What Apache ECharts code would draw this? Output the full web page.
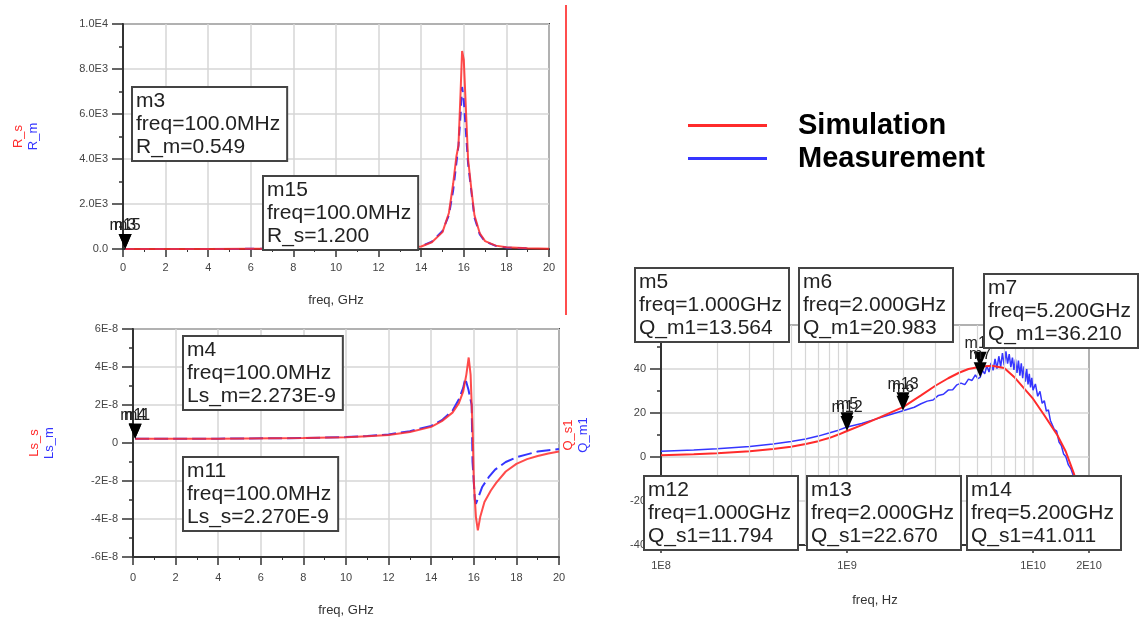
<!DOCTYPE html>
<html>
<head>
<meta charset="utf-8">
<title>R / Ls / Q simulation vs measurement</title>
<script src="https://cdn.jsdelivr.net/npm/echarts@6/dist/echarts.min.js"></script>
<style>
  html, body { margin: 0; padding: 0; background: #fff; }
  #chart { width: 1139px; height: 625px; }
</style>
</head>
<body>
<div id="chart"></div>
<script>
// R plot, freq in GHz, R in ohm
var rSimFreq = [0.1, 2, 4, 6, 8, 10, 12, 13, 14, 14.5, 15, 15.3, 15.5, 15.65, 15.75, 15.85, 15.92, 16.0, 16.1, 16.2, 16.35, 16.5, 16.75, 17, 17.5, 18, 19, 20]
var rSimVal = [1.2, 2, 4, 6, 10, 15, 30, 55, 110, 300, 750, 1600, 2900, 4100, 4600, 7000, 8800, 8400, 6200, 4000, 2700, 1500, 700, 350, 150, 80, 35, 15]
var rMeasFreq = [0.1, 2, 4, 6, 8, 10, 12, 13, 14, 14.5, 15, 15.3, 15.5, 15.65, 15.75, 15.85, 15.92, 16.0, 16.1, 16.2, 16.35, 16.5, 16.75, 17, 17.5, 18, 19]
var rMeasVal = [0.549, 2, 4, 6, 10, 15, 30, 60, 130, 330, 800, 1500, 2600, 3800, 4600, 6000, 7200, 6600, 5200, 3800, 2600, 1400, 650, 330, 140, 70, 30]

// Ls plot, freq in GHz, Ls in units of 1E-8 H
var lsSimFreq = [0.1, 4, 8, 10, 11, 12, 13, 14, 14.5, 15, 15.3, 15.5, 15.65, 15.76, 15.85, 15.95, 16.0, 16.1, 16.19, 16.3, 16.5, 16.8, 17.05, 17.5, 18, 18.5, 19, 19.5, 20]
var lsSimVal = [0.227, 0.23, 0.26, 0.3, 0.36, 0.42, 0.58, 0.85, 1.15, 1.6, 2.1, 2.7, 3.6, 4.5, 3.6, 0.5, -2.0, -3.9, -4.6, -3.9, -3.1, -2.5, -2.1, -1.5, -1.1, -0.85, -0.68, -0.55, -0.45]
var lsMeasFreq = [0.1, 4, 8, 10, 11, 12, 13, 14, 14.5, 15, 15.3, 15.5, 15.6, 15.75, 15.9, 15.94, 15.97, 16.05, 16.1, 16.2, 16.4, 16.7, 17, 17.5, 18, 18.5, 19, 19.5, 20]
var lsMeasVal = [0.2273, 0.23, 0.26, 0.31, 0.37, 0.45, 0.62, 0.9, 1.2, 1.7, 2.3, 2.9, 3.4, 2.8, 2.0, -1.0, -1.5, -3.0, -3.2, -2.9, -2.3, -1.8, -1.4, -1.0, -0.75, -0.6, -0.45, -0.38, -0.32]

// Q plot, freq in GHz (axis in Hz)
var qSimFreq = [0.1, 0.15, 0.2, 0.3, 0.4, 0.5, 0.6, 0.7, 0.8, 0.9, 1.0, 1.2, 1.5, 2.0, 2.5, 3.0, 3.5, 4.0, 4.5, 5.2, 6.0, 7.0, 8.0, 9.0, 10, 11.5, 13.5, 15, 16.5, 18, 20]
var qSimVal = [0.8, 1.2, 1.7, 2.6, 3.6, 4.7, 5.9, 7.2, 8.6, 10.2, 11.8, 14.5, 18.0, 22.7, 28.0, 32.5, 35.8, 38.3, 40.0, 41.0, 41.5, 40.5, 36.0, 31.0, 26.5, 19.0, 10.0, 2.5, -7.0, -17, -28]
var qMeasFreq = [0.1, 0.15, 0.2, 0.3, 0.4, 0.5, 0.6, 0.7, 0.8, 0.9, 1.0, 1.2, 1.5, 2.0, 2.3, 2.5, 2.7, 2.9, 3.1, 3.3, 3.5, 3.7, 3.9, 4.1, 4.3, 4.5, 4.7, 4.9, 5.05, 5.2, 5.35, 5.5, 5.65, 5.8, 5.95, 6.1, 6.25, 6.4, 6.55, 6.7, 6.85, 7.0, 7.15, 7.3, 7.45, 7.6, 7.75, 7.9, 8.05, 8.2, 8.35, 8.5, 8.65, 8.8, 8.95, 9.1, 9.25, 9.4, 9.55, 9.7, 9.85, 10.0, 10.3, 10.6, 10.9, 11.2, 11.5, 11.8, 12.1, 12.4, 12.7, 13.0, 13.4, 13.8, 14.2, 14.6, 15.0, 15.5, 16.0, 16.5, 17.0]
var qMeasVal = [2.6, 3.2, 3.8, 4.8, 5.9, 7.0, 8.2, 9.5, 10.9, 12.2, 13.6, 15.2, 17.8, 21.0, 22.6, 24.2, 25.4, 25.9, 28.0, 28.5, 30.4, 30.6, 32.8, 33.6, 32.9, 35.4, 34.8, 37.3, 35.6, 36.2, 39.4, 37.8, 41.5, 38.6, 42.8, 39.4, 44.6, 40.2, 45.8, 41.0, 47.2, 41.6, 48.0, 42.4, 46.8, 40.8, 45.2, 39.6, 44.4, 38.2, 43.8, 37.0, 42.6, 35.8, 41.2, 34.2, 40.0, 33.0, 37.8, 31.6, 36.0, 30.4, 33.2, 27.6, 29.8, 24.4, 25.6, 20.8, 21.4, 16.6, 17.2, 12.6, 11.8, 6.8, 5.2, 1.4, 0.2, -3.6, -5.4, -8.6, -10.4]

// log grid lines (Hz)
var qGridFreq = [2e8, 3e8, 4e8, 5e8, 6e8, 7e8, 8e8, 9e8, 2e9, 3e9, 4e9, 5e9, 6e9, 7e9, 8e9, 9e9]

// markers
var rMarkFreq = 100.0  // MHz
var rMarkMeas = 0.549
var rMarkSim = 1.200
var lsMarkFreq = 100.0 // MHz
var lsMarkMeas = 2.273e-9
var lsMarkSim = 2.270e-9
var qMarkFreq = [1.0, 2.0, 5.2] // GHz
var qMarkMeas = [13.564, 20.983, 36.210]
var qMarkSim = [11.794, 22.670, 41.011]
var qMarkMeasName = ['m5', 'm6', 'm7']
var qMarkSimName = ['m12', 'm13', 'm14']

var RED = '#ff2b2b'
var BLUE = '#3535ff'
var FONT = '"Liberation Sans", Arial, sans-serif'

function pairs (xs, ys, kx, ky) {
  return xs.map(function (x, i) { return [x * (kx || 1), ys[i] * (ky || 1)] })
}

var tri = 'path://M0,0 L12,0 L6,14 Z'

function marker (name, x, y) {
  return {
    symbol: tri,
    symbolSize: [13, 15],
    symbolOffset: [0, '-50%'],
    itemStyle: { color: '#000' },
    label: { show: true, position: 'top', distance: 0, color: '#222', fontSize: 16, fontFamily: FONT, formatter: name },
    data: [{ coord: [x, y] }]
  }
}

function xAxisLin (gi, gap, margin) {
  return {
    type: 'value', gridIndex: gi, min: 0, max: 20, interval: 2,
    name: 'freq, GHz', nameLocation: 'middle', nameGap: gap,
    nameTextStyle: { fontSize: 13, color: '#333', fontFamily: FONT },
    axisLine: { onZero: false, lineStyle: { color: '#333', width: 2 } },
    axisTick: { length: 8, lineStyle: { color: '#333', width: 1.5 } },
    minorTick: { show: true, splitNumber: 2, length: 3, lineStyle: { color: '#333' } },
    splitLine: { show: true, lineStyle: { color: '#d6d6d6', width: 1.5 } },
    axisLabel: { fontSize: 11, color: '#444', margin: margin, fontFamily: FONT }
  }
}

function yAxisLin (gi, min, max, interval, fmt, nameS, nameM, gap) {
  return {
    type: 'value', gridIndex: gi, min: min, max: max, interval: interval,
    name: '{s|' + nameS + '}\n{m|' + nameM + '}', nameLocation: 'middle', nameRotate: 90, nameGap: gap,
    nameTextStyle: { lineHeight: 15, rich: { s: { color: RED, fontSize: 13, fontFamily: FONT }, m: { color: BLUE, fontSize: 13, fontFamily: FONT } } },
    axisLine: { show: true, onZero: false, lineStyle: { color: '#333', width: 2 } },
    axisTick: { show: true, length: 11, lineStyle: { color: '#333', width: 1.5 } },
    minorTick: { show: true, splitNumber: 2, length: 4, lineStyle: { color: '#333', width: 1.5 } },
    splitLine: { show: true, lineStyle: { color: '#d6d6d6', width: 1.5 } },
    axisLabel: { fontSize: 11, color: '#444', margin: 15, fontFamily: FONT, formatter: fmt }
  }
}

function box (x, y, lines) {
  return {
    type: 'text', left: x, top: y, z: 100,
    style: {
      text: lines.join('\n'), font: '21px ' + FONT, fill: '#222', lineHeight: 23,
      backgroundColor: '#fff', borderColor: '#444', borderWidth: 2, padding: [2, 6, 1, 3]
    }
  }
}

var chart = echarts.init(document.getElementById('chart'))

var qBoxes = []
var qTopX = [634, 798, 983], qTopY = [267, 267, 273]
var qBotX = [643, 806, 966]
qMarkFreq.forEach(function (f, i) {
  qBoxes.push(box(qTopX[i], qTopY[i], [qMarkMeasName[i], 'freq=' + f.toFixed(3) + 'GHz', 'Q_m1=' + qMarkMeas[i].toFixed(3)]))
  qBoxes.push(box(qBotX[i], 475, [qMarkSimName[i], 'freq=' + f.toFixed(3) + 'GHz', 'Q_s1=' + qMarkSim[i].toFixed(3)]))
})

function markerSet (names, xs, ys) {
  var m = marker(names[0], xs[0], ys[0])
  m.data = xs.map(function (x, i) {
    return { coord: [x, ys[i]], label: { formatter: names[i] } }
  })
  return m
}

var option = {
  animation: false,
  backgroundColor: '#fff',
  textStyle: { fontFamily: FONT },
  grid: [
    { left: 123, top: 24, width: 426, height: 225, show: true, borderColor: '#444', borderWidth: 2 },
    { left: 133, top: 329, width: 426, height: 228, show: true, borderColor: '#444', borderWidth: 2 },
    { left: 661, top: 325, width: 428, height: 220, show: true, borderColor: '#444', borderWidth: 2 }
  ],
  legend: {
    data: ['Simulation', 'Measurement'],
    orient: 'vertical', left: 683, top: 106,
    icon: 'rect', itemWidth: 79, itemHeight: 3, itemGap: 4,
    selectedMode: false,
    textStyle: { fontSize: 29, fontWeight: 'bold', color: '#000', fontFamily: FONT, padding: [0, 0, 0, 26] }
  },
  xAxis: [
    xAxisLin(0, 45, 13),
    xAxisLin(1, 47, 15),
    {
      type: 'log', logBase: 10, gridIndex: 2, min: 1e8, max: 2e10,
      name: 'freq, Hz', nameLocation: 'middle', nameGap: 49,
      nameTextStyle: { fontSize: 13, color: '#333', fontFamily: FONT },
      axisLine: { onZero: false, lineStyle: { color: '#333', width: 2 } },
      axisTick: { length: 8, lineStyle: { color: '#333', width: 1.5 } },
      splitLine: { show: true, lineStyle: { color: '#d6d6d6', width: 1.5 } },
      axisLabel: {
        fontSize: 11, color: '#444', margin: 15, fontFamily: FONT,
        formatter: function (v) {
          var e = Math.floor(Math.log10(v) + 1e-6)
          return Math.round(v / Math.pow(10, e)) + 'E' + e
        }
      }
    }
  ],
  yAxis: [
    yAxisLin(0, 0, 10000, 2000, function (v) {
      if (v === 0) return '0.0'
      var e = Math.floor(Math.log10(v) + 1e-6)
      return (v / Math.pow(10, e)).toFixed(1) + 'E' + e
    }, 'R_s', 'R_m', 82),
    yAxisLin(1, -6, 6, 2, function (v) {
      var n = Math.round(v)
      return n === 0 ? '0' : n + 'E-8'
    }, 'Ls_s', 'Ls_m', 76),
    yAxisLin(2, -40, 60, 20, function (v) { return String(Math.round(v)) }, 'Q_s1', 'Q_m1', 70)
  ],
  series: [
    {
      name: 'R_m', type: 'line', xAxisIndex: 0, yAxisIndex: 0, showSymbol: false, z: 2,
      lineStyle: { color: BLUE, width: 2, type: [9, 6] }, itemStyle: { color: BLUE },
      data: pairs(rMeasFreq, rMeasVal),
      markPoint: marker('m3', rMarkFreq / 1000, rMarkMeas)
    },
    {
      name: 'R_s', type: 'line', xAxisIndex: 0, yAxisIndex: 0, showSymbol: false, z: 3,
      lineStyle: { color: RED, width: 2, opacity: 0.85 }, itemStyle: { color: RED },
      data: pairs(rSimFreq, rSimVal),
      markPoint: marker('m15', rMarkFreq / 1000, rMarkSim)
    },
    {
      name: 'Ls_m', type: 'line', xAxisIndex: 1, yAxisIndex: 1, showSymbol: false, z: 2,
      lineStyle: { color: BLUE, width: 2, type: [14, 5] }, itemStyle: { color: BLUE },
      data: pairs(lsMeasFreq, lsMeasVal),
      markPoint: marker('m4', lsMarkFreq / 1000, lsMarkMeas * 1e8)
    },
    {
      name: 'Ls_s', type: 'line', xAxisIndex: 1, yAxisIndex: 1, showSymbol: false, z: 3,
      lineStyle: { color: RED, width: 2, opacity: 0.85 }, itemStyle: { color: RED },
      data: pairs(lsSimFreq, lsSimVal),
      markPoint: marker('m11', lsMarkFreq / 1000, lsMarkSim * 1e8)
    },
    {
      name: 'grid', type: 'line', xAxisIndex: 2, yAxisIndex: 2, z: 1, silent: true, data: [],
      markLine: {
        silent: true, symbol: 'none', label: { show: false },
        lineStyle: { color: '#d6d6d6', width: 1.2, type: 'solid' },
        data: qGridFreq.map(function (f) { return { xAxis: f } })
      }
    },
    {
      name: 'Measurement', type: 'line', xAxisIndex: 2, yAxisIndex: 2, showSymbol: false, z: 2,
      lineStyle: { color: BLUE, width: 1.5 }, itemStyle: { color: BLUE },
      data: pairs(qMeasFreq, qMeasVal, 1e9),
      markPoint: markerSet(qMarkMeasName, qMarkFreq.map(function (f) { return f * 1e9 }), qMarkMeas)
    },
    {
      name: 'Simulation', type: 'line', xAxisIndex: 2, yAxisIndex: 2, showSymbol: false, z: 3,
      lineStyle: { color: RED, width: 2 }, itemStyle: { color: RED },
      data: pairs(qSimFreq, qSimVal, 1e9),
      markPoint: markerSet(qMarkSimName, qMarkFreq.map(function (f) { return f * 1e9 }), qMarkSim)
    }
  ],
  graphic: [
    { type: 'line', z: 100, shape: { x1: 566, y1: 5, x2: 566, y2: 315 }, style: { stroke: '#ff4d4d', lineWidth: 2 } },
    box(131, 86, ['m3', 'freq=' + rMarkFreq.toFixed(1) + 'MHz', 'R_m=' + rMarkMeas.toFixed(3)]),
    box(262, 175, ['m15', 'freq=' + rMarkFreq.toFixed(1) + 'MHz', 'R_s=' + rMarkSim.toFixed(3)]),
    box(182, 335, ['m4', 'freq=' + lsMarkFreq.toFixed(1) + 'MHz', 'Ls_m=' + lsMarkMeas.toExponential(3).toUpperCase()]),
    box(182, 456, ['m11', 'freq=' + lsMarkFreq.toFixed(1) + 'MHz', 'Ls_s=' + lsMarkSim.toExponential(3).toUpperCase()])
  ].concat(qBoxes)
}

chart.setOption(option)
</script>
</body>
</html>
